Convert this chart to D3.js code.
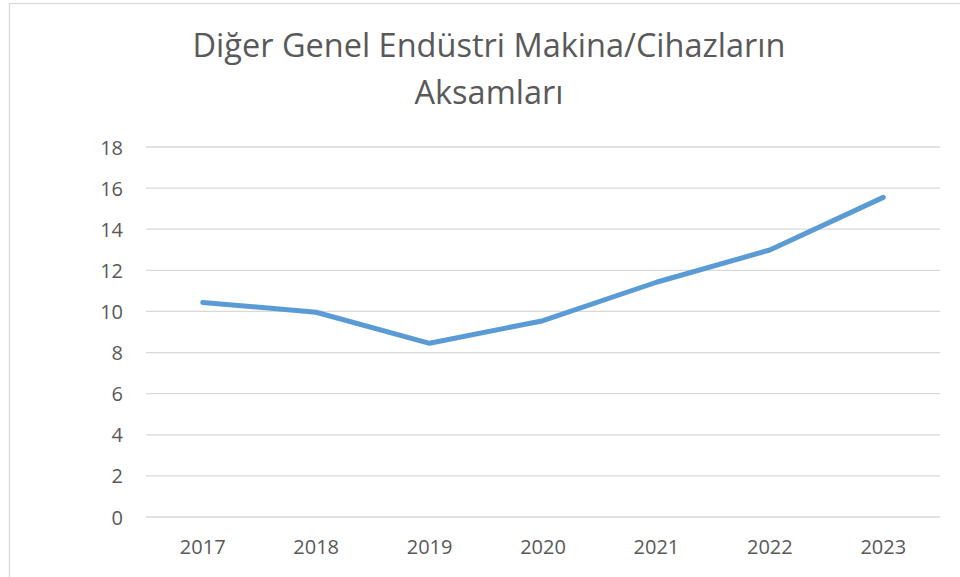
<!DOCTYPE html>
<html>
<head>
<meta charset="utf-8">
<script src="https://cdn.jsdelivr.net/npm/d3@7"></script>
<style>
  body { margin: 0; background: #fff; }
  text { font-family: "Open Sans", sans-serif; fill: #595959; }
</style>
</head>
<body>
<div id="chart"></div>
<script>
var years = ["2017", "2018", "2019", "2020", "2021", "2022", "2023"];
var values = [10.44, 9.96, 8.45, 9.55, 11.42, 12.99, 15.55];
var yTicks = [0, 2, 4, 6, 8, 10, 12, 14, 16, 18];
var titleLines = ["Diğer Genel Endüstri Makina/Cihazların", "Aksamları"];

var width = 960, height = 577;
var margin = { top: 147, right: 20, bottom: 60, left: 146 };
var plotW = 940 - margin.left,
    plotH = 517 - margin.top;

var svg = d3.select("#chart").append("svg")
    .attr("width", width)
    .attr("height", height);

// chart border
svg.append("rect")
    .attr("x", 9.5).attr("y", 3.5)
    .attr("width", 1000).attr("height", 700)
    .attr("fill", "none")
    .attr("stroke", "#d9d9d9")
    .attr("stroke-width", 1.3);

// title
var title = svg.append("text")
    .attr("text-anchor", "middle")
    .attr("font-size", 30);
titleLines.forEach(function(t, i){
    title.append("tspan")
        .attr("x", 489)
        .attr("y", 57 + i * 47)
        .text(t);
});
// fit the first line to the reference width
var firstLen = title.select("tspan").node().getComputedTextLength();
title.attr("font-size", 30 * 593 / firstLen);

var g = svg.append("g")
    .attr("transform", "translate(" + margin.left + "," + margin.top + ")");

var x = d3.scaleBand()
    .domain(years)
    .range([0, plotW]);

var y = d3.scaleLinear()
    .domain([0, 18])
    .range([plotH, 0]);

// gridlines
g.selectAll(".grid")
    .data(yTicks)
    .enter().append("line")
    .attr("class", "grid")
    .attr("x1", 0).attr("x2", plotW)
    .attr("y1", function(d){ return y(d); })
    .attr("y2", function(d){ return y(d); })
    .attr("stroke", "#d9d9d9")
    .attr("stroke-width", 1.3);

var yAxis = d3.axisLeft(y).tickValues(yTicks).tickSize(0).tickPadding(23);
g.append("g")
    .attr("class", "y-axis")
    .call(yAxis)
    .call(function(s){ s.select(".domain").remove(); })
    .selectAll("text")
    .attr("font-size", 20)
    .attr("dy", "0.35em");

var xAxis = d3.axisBottom(x).tickSize(0).tickPadding(23);
g.append("g")
    .attr("class", "x-axis")
    .attr("transform", "translate(0," + plotH + ")")
    .call(xAxis)
    .call(function(s){ s.select(".domain").remove(); })
    .selectAll("text")
    .attr("font-size", 20);

svg.selectAll(".tick text").style("fill", "#595959").style("font-family", "'Open Sans', sans-serif");

var line = d3.line()
    .x(function(d, i){ return x(years[i]) + x.bandwidth() / 2; })
    .y(function(d){ return y(d); });

g.append("path")
    .datum(values)
    .attr("d", line)
    .attr("fill", "none")
    .attr("stroke", "#5b9bd5")
    .attr("stroke-width", 5)
    .attr("stroke-linecap", "round")
    .attr("stroke-linejoin", "round");
</script>
</body>
</html>
